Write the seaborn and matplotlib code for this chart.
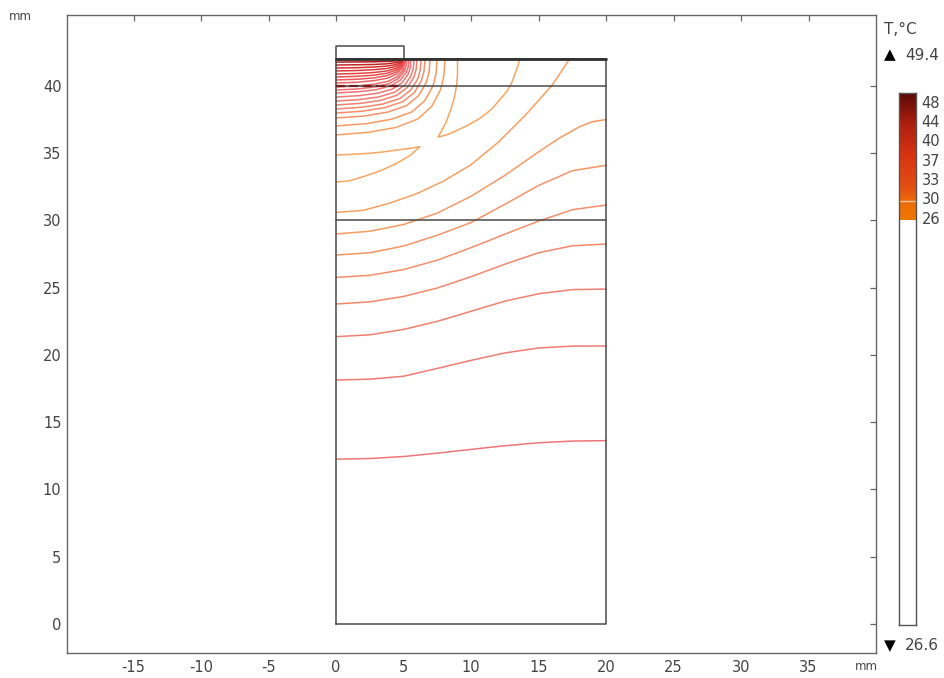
import numpy as np
import pandas as pd
import matplotlib
matplotlib.use("Agg")
import matplotlib.pyplot as plt
from matplotlib.colors import LinearSegmentedColormap
import seaborn as sns

# ---------------- data ----------------
# contour lines crossing the whole width (temperature level, x [mm], y [mm])
band_levels = [36, 35, 34, 33, 32, 31, 30, 29]
band_x = [
    [0, 2.5, 5, 7.5, 10, 12.5, 15, 17.5, 20],
    [0, 2.5, 5, 7.5, 10, 12.5, 15, 17.5, 20],
    [0, 2.5, 5, 7.5, 10, 12.5, 15, 17.5, 20],
    [0, 2.5, 5, 7.5, 10, 12.5, 15, 17.5, 20],
    [0, 2.5, 5, 7.5, 10, 12.5, 15, 17.5, 20],
    [0, 2.5, 5, 7.5, 10, 12.5, 15, 17.5, 20],
    [0, 2.5, 5, 7.5, 10, 12.5, 15, 16.5, 18, 19, 20],
    [0, 2, 4, 6, 8, 10, 12, 14, 16, 17.3],
]
band_y = [
    [12.25, 12.3, 12.45, 12.7, 12.98, 13.25, 13.47, 13.6, 13.63],
    [18.14, 18.2, 18.42, 19.0, 19.6, 20.15, 20.52, 20.66, 20.67],
    [21.36, 21.5, 21.9, 22.5, 23.25, 24.0, 24.55, 24.86, 24.9],
    [23.79, 23.95, 24.35, 24.98, 25.82, 26.75, 27.6, 28.12, 28.25],
    [25.77, 25.92, 26.35, 27.05, 27.98, 28.98, 29.95, 30.8, 31.15],
    [27.43, 27.6, 28.1, 28.9, 29.85, 31.2, 32.6, 33.7, 34.1],
    [29.0, 29.2, 29.7, 30.55, 31.8, 33.35, 35.1, 36.1, 36.95, 37.35, 37.5],
    [30.6, 30.75, 31.3, 32.0, 32.95, 34.15, 35.8, 37.8, 40.05, 42.0],
]

# the two cusp-shaped contours near the coolest zone
cusp_levels = [28, 28]
cusp_x = [
    [0, 1.0, 2.02, 3.3, 4.5, 5.5, 6.22, 5.4, 4.5, 3.5, 2.52, 1.2, 0],
    [9.0, 9.0, 8.95, 8.8, 8.55, 8.15, 7.56, 8.3, 8.96, 9.8, 10.67, 11.5,
     12.15, 12.65, 13.0, 13.3, 13.5, 13.6],
]
cusp_y = [
    [32.86, 32.95, 33.26, 33.7, 34.25, 34.85, 35.49, 35.35, 35.24, 35.1,
     35.0, 34.92, 34.87],
    [42.0, 41.0, 40.2, 39.3, 38.4, 37.3, 36.2, 36.4, 36.7, 37.1, 37.6, 38.25,
     39.0, 39.6, 40.2, 41.0, 41.6, 42.0],
]

# dense contours around the heater edge
arc_levels = list(range(29, 48))
arc_x = [
    [0, 2.42, 4.44, 6.05, 7.10, 7.75, 7.99, 8.07],
    [0, 2.24, 4.11, 5.61, 6.58, 7.18, 7.41, 7.48],
    [0, 2.09, 3.83, 5.22, 6.12, 6.68, 6.89, 6.96],
    [0, 1.98, 3.62, 4.94, 5.80, 6.33, 6.52, 6.59],
    [0, 1.89, 3.47, 4.73, 5.54, 6.05, 6.24, 6.30],
    [0, 1.80, 3.30, 4.50, 5.28, 5.76, 5.94, 6.00],
    [0, 1.73, 3.18, 4.34, 5.09, 5.55, 5.72, 5.78],
    [0, 1.67, 3.06, 4.17, 4.89, 5.34, 5.50, 5.56],
    [0, 1.62, 2.98, 4.06, 4.76, 5.19, 5.36, 5.41],
    [0, 1.58, 2.89, 3.95, 4.63, 5.05, 5.21, 5.26],
    [0, 1.56, 2.85, 3.89, 4.57, 4.98, 5.19],
    [0, 1.53, 2.81, 3.83, 4.50, 4.91, 5.11],
    [0, 1.52, 2.79, 3.80, 4.46, 4.87, 5.07],
    [0, 1.51, 2.77, 3.78, 4.44, 4.84, 5.04],
    [0, 1.51, 2.77, 3.77, 4.43, 4.83, 5.03],
    [0, 1.50, 2.75, 3.75, 4.40, 4.80, 5.00],
    [0, 1.50, 2.75, 3.75, 4.40, 4.80, 5.00],
    [0, 1.49, 2.74, 3.74, 4.38, 4.78, 4.98],
    [0, 1.49, 2.73, 3.73, 4.37, 4.77, 4.97],
]
arc_y = [
    [36.36, 36.56, 36.92, 37.54, 38.50, 39.74, 40.76, 42],
    [37.03, 37.20, 37.53, 38.07, 38.92, 40.01, 40.91, 42],
    [37.62, 37.77, 38.06, 38.54, 39.28, 40.25, 41.04, 42],
    [37.99, 38.13, 38.39, 38.83, 39.51, 40.40, 41.12, 42],
    [38.29, 38.42, 38.66, 39.07, 39.70, 40.52, 41.18, 42],
    [38.59, 38.71, 38.93, 39.31, 39.89, 40.64, 41.25, 42],
    [38.88, 38.99, 39.19, 39.54, 40.07, 40.75, 41.31, 42],
    [39.18, 39.28, 39.46, 39.77, 40.25, 40.87, 41.38, 42],
    [39.48, 39.57, 39.73, 40.01, 40.44, 40.99, 41.45, 42],
    [39.70, 39.78, 39.93, 40.18, 40.57, 41.08, 41.49, 42],
    [39.93, 40.00, 40.14, 40.36, 40.72, 41.17, 42],
    [40.22, 40.28, 40.40, 40.59, 40.90, 41.29, 42],
    [40.45, 40.50, 40.60, 40.78, 41.04, 41.38, 42],
    [40.67, 40.72, 40.80, 40.95, 41.18, 41.47, 42],
    [40.89, 40.93, 41.00, 41.12, 41.31, 41.56, 42],
    [41.12, 41.15, 41.21, 41.30, 41.45, 41.65, 42],
    [41.34, 41.36, 41.41, 41.48, 41.59, 41.74, 42],
    [41.56, 41.58, 41.60, 41.65, 41.73, 41.82, 42],
    [41.78, 41.79, 41.80, 41.83, 41.86, 41.91, 42],
]

# geometry (mm)
domain_x = [0, 20, 20, 0, 0]
domain_y = [0, 0, 42, 42, 0]
heater_x = [0, 0, 5, 5]
heater_y = [42, 43, 43, 42]
layer_y = [30, 40]

# colour legend
t_max, t_min = 49.4, 26.6
cbar_labels = ["48", "44", "40", "37", "33", "30", "26"]
x_ticks = [-15, -10, -5, 0, 5, 10, 15, 20, 25, 30, 35]
y_ticks = [0, 5, 10, 15, 20, 25, 30, 35, 40]

# ---------------- build long table ----------------
rows = []
uid = 0
for lv_list, xs_list, ys_list in ((band_levels, band_x, band_y),
                                  (cusp_levels, cusp_x, cusp_y),
                                  (arc_levels, arc_x, arc_y)):
    for lv, xs, ys in zip(lv_list, xs_list, ys_list):
        for i, (xv, yv) in enumerate(zip(xs, ys)):
            rows.append(dict(uid=uid, order=i, x=xv, y=yv, level=lv))
        uid += 1
df = pd.DataFrame(rows)

sns.set_theme(style="white")
plt.rcParams["font.family"] = ["DejaVu Sans"]
plt.rcParams["axes.unicode_minus"] = False

line_cmap = LinearSegmentedColormap.from_list("lines", [
    (0.0, "#f7b060"), (0.087, "#f6a660"), (0.174, "#f59a62"),
    (0.26, "#f38e68"), (0.348, "#f1806f"), (0.435, "#ef7676"),
    (0.565, "#ee6a6a"), (0.696, "#e84e4e"), (0.826, "#d83030"),
    (0.957, "#a01010"), (1.0, "#700000")])

W, H = 944, 678
fig = plt.figure(figsize=(W / 100, H / 100), dpi=100)
ax = fig.add_axes([67 / W, 25 / H, 809 / W, 638 / H])

sns.lineplot(data=df, x="x", y="y", hue="level", units="uid", estimator=None,
             sort=False, palette=line_cmap, hue_norm=(26, 49), legend=False,
             lw=1.1, ax=ax)

gcol = "#4a4a4a"
ax.plot(domain_x, domain_y, color=gcol, lw=1.1, zorder=5)
ax.plot(heater_x, heater_y, color=gcol, lw=1.1, zorder=5)
ax.plot([0, 20], [42, 42], color="#303030", lw=2.0, zorder=5)
for ly in layer_y:
    ax.plot([0, 20], [ly, ly], color=gcol, lw=1.1, zorder=5)
ax.plot([0, 4.8], [40, 40], color="#6a2020", lw=1.6, ls=(0, (4, 2)), zorder=6)

ax.set_xlim(-19.93, 40.0)
ax.set_ylim(-2.16, 45.28)
ax.set_xticks(x_ticks)
ax.set_yticks(y_ticks)
ax.set_xlabel("")
ax.set_ylabel("")
ax.tick_params(direction="in", top=True, right=True, length=4, width=0.9,
               color="#666666", labelsize=10.5, labelcolor="#444444")
ax.tick_params(axis="x", pad=5)
ax.tick_params(axis="y", pad=4)
for s in ax.spines.values():
    s.set_color("#666666")
    s.set_linewidth(1.0)

fig.text(20 / W, 1 - 17 / H, "mm", fontsize=8.5, color="#444444",
         ha="center", va="center")
fig.text(866 / W, 1 - 667 / H, "mm", fontsize=8.5, color="#444444",
         ha="center", va="center")

# ---------------- colour legend ----------------
cax = fig.add_axes([899 / W, 53 / H, 17 / W, 532 / H])
bar_cmap = LinearSegmentedColormap.from_list("bar", [
    (0.0, "#f07800"), (0.15, "#ec6a08"), (0.25, "#e55010"),
    (0.5, "#d83510"), (0.75, "#b02010"), (1.0, "#5a0808")])
grad = np.linspace(0, 1, 256).reshape(-1, 1)
cax.imshow(grad, cmap=bar_cmap, origin="lower", aspect="auto",
           extent=[0, 1, 405, 532])
cax.axhline(424, color="#f8c8a0", lw=1.0)
cax.set_xlim(0, 1)
cax.set_ylim(0, 532)
cax.set_xticks([])
cax.yaxis.tick_right()
cax.set_yticks([523, 504, 485, 465, 446, 427, 407])
cax.set_yticklabels(cbar_labels)
cax.tick_params(axis="y", length=0, pad=4, labelsize=10.5,
                labelcolor="#444444")
for s in cax.spines.values():
    s.set_color("#555555")
    s.set_linewidth(1.0)

fig.text(884 / W, 1 - 30 / H, "T,°C", fontsize=11, color="#444444",
         ha="left", va="center")
fig.text(884 / W, 1 - 55 / H, "▲", fontsize=11, color="black",
         ha="left", va="center")
fig.text(905 / W, 1 - 55 / H, f"{t_max:.1f}", fontsize=11, color="#444444",
         ha="left", va="center")
fig.text(884 / W, 1 - 646 / H, "▼", fontsize=11, color="black",
         ha="left", va="center")
fig.text(905 / W, 1 - 646 / H, f"{t_min:.1f}", fontsize=11, color="#444444",
         ha="left", va="center")

fig.savefig("out.png", dpi=100, facecolor="white")
